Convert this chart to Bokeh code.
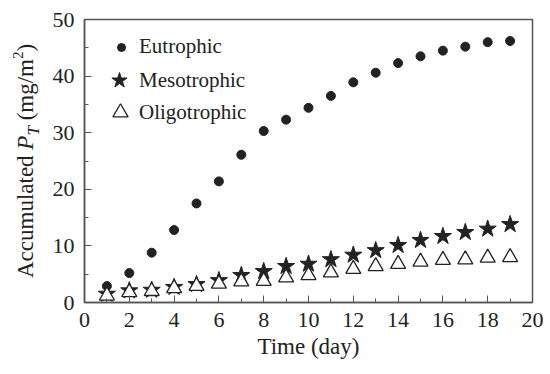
from bokeh.plotting import figure
from bokeh.models import Range1d, Legend, LegendItem, FixedTicker, Div
from bokeh.layouts import row
from bokeh.embed import file_html
from bokeh.resources import INLINE

days = list(range(1, 20))
eutrophic = [2.9, 5.2, 8.8, 12.8, 17.5, 21.4, 26.1, 30.3, 32.3, 34.4, 36.5, 38.9, 40.6, 42.3, 43.5, 44.5, 45.2, 46.0, 46.2]
mesotrophic = [1.5, 2.1, 2.2, 2.7, 3.2, 3.9, 4.8, 5.5, 6.4, 6.8, 7.6, 8.4, 9.2, 10.1, 11.0, 11.7, 12.4, 13.0, 13.8]
oligotrophic = [1.2, 1.8, 2.0, 2.5, 2.9, 3.3, 3.7, 3.8, 4.4, 4.8, 5.3, 5.9, 6.4, 6.8, 7.2, 7.5, 7.6, 7.9, 8.0]
x_ticks = list(range(0, 21, 2))
y_ticks = list(range(0, 51, 10))

FONT = "Liberation Serif"
FS = "22px"
DARK = "#222222"
AX = "#555555"
H = 366
W_SIDE = 44

p = figure(width=544 - W_SIDE, height=H, output_backend="svg", toolbar_location=None,
           x_range=Range1d(0, 20), y_range=Range1d(0, 50),
           min_border_left=84 - W_SIDE, min_border_right=12, min_border_top=19, min_border_bottom=64)
p.xgrid.visible = False
p.ygrid.visible = False
p.outline_line_color = AX
p.outline_line_width = 1.5

p.axis.axis_line_color = AX
p.axis.axis_line_width = 1.5
p.axis.major_tick_in = 7
p.axis.major_tick_out = 0
p.axis.minor_tick_in = 4
p.axis.minor_tick_out = 0
p.axis.major_tick_line_color = AX
p.axis.minor_tick_line_color = AX
p.axis.major_label_text_font = FONT
p.axis.major_label_text_font_size = FS
p.axis.major_label_text_color = DARK
p.axis.axis_label_text_font = FONT
p.axis.axis_label_text_font_size = "23px"
p.axis.axis_label_text_font_style = "normal"
p.axis.axis_label_text_color = DARK

p.xaxis.ticker = FixedTicker(ticks=x_ticks, minor_ticks=list(range(1, 20, 2)))
p.yaxis.ticker = FixedTicker(ticks=y_ticks, minor_ticks=list(range(5, 50, 10)))
p.xaxis.major_label_standoff = 10
p.yaxis.major_label_standoff = 10
p.xaxis.axis_label = "Time (day)"
p.xaxis.axis_label_standoff = 4

r_eu = p.scatter(days, eutrophic, marker="circle", size=9, fill_color=DARK, line_color=DARK)
r_me = p.scatter(days, mesotrophic, marker="star", size=18, fill_color=DARK, line_color=DARK)
r_ol = p.scatter(days, oligotrophic, marker="triangle", size=15, fill_color="white",
                 line_color=DARK, line_width=1.3)

# one legend per entry so that each entry's marker gets its own size
# (glyph box, left x, bottom y, label standoff) in frame pixels
legend_specs = [("Eutrophic", r_eu, 20, 27, 243, 8),
                ("Mesotrophic", r_me, 40, 15, 202, 0),
                ("Oligotrophic", r_ol, 38, 17, 171, 0)]
for lab, rend, box, lx, ly, standoff in legend_specs:
    lg = Legend(items=[LegendItem(label=lab, renderers=[rend])],
                location=(lx, ly), margin=0, padding=0, spacing=0,
                glyph_width=box, glyph_height=box, label_height=box, label_standoff=standoff,
                border_line_color=None, background_fill_alpha=0,
                label_text_font=FONT, label_text_font_size="21px", label_text_color=DARK)
    p.add_layout(lg)

# side panel with the rotated y-axis title "Accumulated P_T (mg/m^2)"
y_title = ('<div style="position:absolute; left:13px; top:278px; transform-origin:0 0; '
           'transform:rotate(-90deg); white-space:nowrap; font-family:\'Liberation Serif\'; '
           'font-size:23px; line-height:normal; color:#222222;">'
           'Accumulated <i>P</i><span style="font-style:italic; font-size:17px; '
           'position:relative; top:6px;">T</span> (mg/m<span style="font-size:15px; '
           'position:relative; top:-10px;">2</span>)</div>')
s = Div(text=y_title, width=W_SIDE, height=H, margin=0)

open("out.html", "w").write(file_html(row(s, p), INLINE))
